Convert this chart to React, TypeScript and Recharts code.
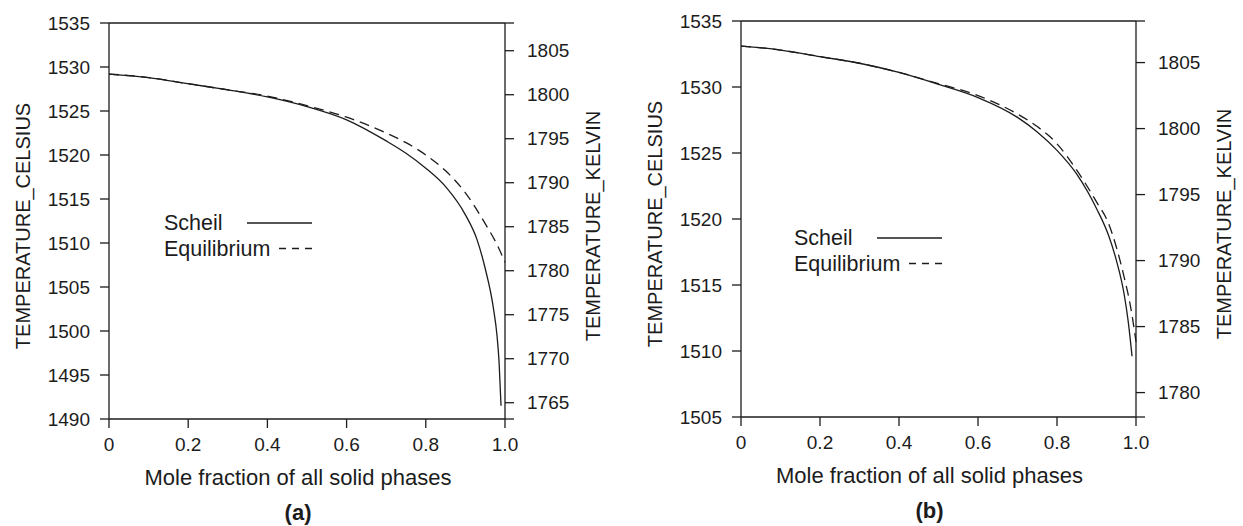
import { Label, Legend, Line, LineChart, XAxis, YAxis } from "recharts";

const FONT = '"Liberation Sans", Arial, Helvetica, sans-serif';
const INK = "#1c1c1c";
const K_OFFSET = 273.15;

const fractionTicks = [0, 0.2, 0.4, 0.6, 0.8, 1.0];
const keyOrder = ["Scheil", "Equilibrium"];

// (a) liquidus-to-solidus cooling paths
const scheilA_frac = [0, 0.1, 0.2, 0.3, 0.4, 0.5, 0.6, 0.7, 0.75, 0.8, 0.85, 0.9, 0.93, 0.95, 0.97, 0.98, 0.985, 0.99];
const scheilA_temp = [1529.2, 1528.8, 1528.1, 1527.4, 1526.6, 1525.5, 1524.0, 1521.6, 1520.2, 1518.5, 1516.4, 1513.2, 1510.3, 1507.1, 1502.8, 1499.4, 1496.5, 1491.5];
const equilA_frac = [0, 0.1, 0.2, 0.3, 0.4, 0.5, 0.6, 0.7, 0.75, 0.8, 0.85, 0.9, 0.95, 0.98, 1.0];
const equilA_temp = [1529.2, 1528.8, 1528.1, 1527.4, 1526.7, 1525.6, 1524.3, 1522.5, 1521.4, 1520.0, 1518.2, 1515.7, 1512.2, 1509.8, 1507.8];
const celsiusTicksA = [1490, 1495, 1500, 1505, 1510, 1515, 1520, 1525, 1530, 1535];
const kelvinTicksA = [1765, 1770, 1775, 1780, 1785, 1790, 1795, 1800, 1805];

// (b)
const scheilB_frac = [0, 0.1, 0.2, 0.3, 0.4, 0.5, 0.6, 0.7, 0.75, 0.8, 0.85, 0.9, 0.93, 0.95, 0.97, 0.98, 0.99];
const scheilB_temp = [1533.1, 1532.8, 1532.3, 1531.8, 1531.1, 1530.2, 1529.2, 1527.7, 1526.6, 1525.2, 1523.4, 1520.8, 1518.8, 1516.9, 1514.3, 1512.3, 1509.6];
const equilB_frac = [0, 0.1, 0.2, 0.3, 0.4, 0.5, 0.6, 0.7, 0.75, 0.8, 0.85, 0.9, 0.93, 0.95, 0.97, 0.98, 0.99, 1.0];
const equilB_temp = [1533.1, 1532.8, 1532.3, 1531.8, 1531.1, 1530.25, 1529.35, 1527.95, 1527.0, 1525.7, 1523.7, 1521.3, 1519.7, 1517.9, 1515.6, 1514.3, 1512.7, 1510.7];
const celsiusTicksB = [1505, 1510, 1515, 1520, 1525, 1530, 1535];
const kelvinTicksB = [1780, 1785, 1790, 1795, 1800, 1805];

const zip = (xs: number[], ts: number[]) => xs.map((x, i) => ({ x, t: ts[i] }));

const tickStyle = { fontSize: 19, fill: INK, fontFamily: FONT };
const axisStroke = { stroke: INK, strokeWidth: 1.3 };

function CurveKey({ payload }: any) {
  const items = [...(payload ?? [])].sort(
    (a: any, b: any) => keyOrder.indexOf(a.value) - keyOrder.indexOf(b.value)
  );
  return (
    <svg width={160} height={56} style={{ overflow: "visible", display: "block" }}>
      {items.map((p: any, i: number) => {
        const dashed = !!p.payload?.strokeDasharray;
        const base = 18 + i * 25.5;
        return (
          <g key={p.value}>
            <text x={0} y={base} fontSize={21.5} fontFamily={FONT} fill={INK}>
              {p.value}
            </text>
            <line
              x1={dashed ? 115 : 83}
              x2={148}
              y1={base - 7}
              y2={base - 7}
              stroke={INK}
              strokeWidth={1.6}
              strokeDasharray={dashed ? "7 6" : undefined}
            />
          </g>
        );
      })}
    </svg>
  );
}

interface PanelProps {
  tag: string;
  left: number;
  margin: { top: number; right: number; bottom: number; left: number };
  celsiusTicks: number[];
  kelvinTicks: number[];
  scheil: { x: number; t: number }[];
  equil: { x: number; t: number }[];
  keyPos: { left: number; top: number };
}

function Panel({ tag, left, margin, celsiusTicks, kelvinTicks, scheil, equil, keyPos }: PanelProps) {
  const cMin = celsiusTicks[0];
  const cMax = celsiusTicks[celsiusTicks.length - 1];
  const kDomain = [cMin + K_OFFSET, cMax + K_OFFSET];
  // frame ends get a bare tick on the kelvin side too
  const kTicks = [kDomain[0], ...kelvinTicks, kDomain[1]];

  return (
    <div style={{ position: "absolute", left, top: 0 }}>
      <LineChart width={620} height={526} margin={margin}>
        <XAxis
          xAxisId="bottom"
          dataKey="x"
          type="number"
          domain={[0, 1]}
          ticks={fractionTicks}
          tickFormatter={(v: number) => (v === 0 ? "0" : v.toFixed(1))}
          tick={tickStyle}
          tickSize={9}
          tickMargin={10}
          tickLine={axisStroke}
          axisLine={axisStroke}
          height={100}
        >
          <Label
            content={({ viewBox }: any) => {
              const cx = viewBox.x + viewBox.width / 2 - 9;
              return (
                <g fontFamily={FONT} fill={INK}>
                  <text x={cx} y={viewBox.y + 66} textAnchor="middle" fontSize={22}>
                    Mole fraction of all solid phases
                  </text>
                  <text x={cx} y={viewBox.y + 101} textAnchor="middle" fontSize={22} fontWeight="bold">
                    ({tag})
                  </text>
                </g>
              );
            }}
          />
        </XAxis>
        <XAxis
          xAxisId="top"
          orientation="top"
          dataKey="x"
          type="number"
          domain={[0, 1]}
          ticks={fractionTicks}
          tick={false}
          tickSize={9}
          tickLine={axisStroke}
          axisLine={axisStroke}
          height={10}
        />
        <YAxis
          yAxisId="c"
          dataKey="t"
          type="number"
          domain={[cMin, cMax]}
          ticks={celsiusTicks}
          allowDataOverflow
          tick={tickStyle}
          tickSize={9}
          tickMargin={10}
          tickLine={axisStroke}
          axisLine={axisStroke}
          width={100}
        >
          <Label
            content={({ viewBox }: any) => {
              const x = viewBox.x + viewBox.width - 86;
              const y = viewBox.y + viewBox.height / 2 + 5;
              return (
                <text x={x} y={y} transform={`rotate(-90 ${x} ${y})`} textAnchor="middle" dominantBaseline="central" fontSize={20} fontFamily={FONT} fill={INK}>
                  TEMPERATURE_CELSIUS
                </text>
              );
            }}
          />
        </YAxis>
        <YAxis
          yAxisId="k"
          orientation="right"
          type="number"
          domain={kDomain}
          ticks={kTicks}
          allowDataOverflow
          interval={0}
          tickFormatter={(v: number) => (Number.isInteger(v) ? String(v) : "")}
          tick={tickStyle}
          tickSize={9}
          tickMargin={13}
          tickLine={axisStroke}
          axisLine={axisStroke}
          width={100}
        >
          <Label
            content={({ viewBox }: any) => {
              const x = viewBox.x + 88;
              const y = viewBox.y + viewBox.height / 2 + 5;
              return (
                <text x={x} y={y} transform={`rotate(-90 ${x} ${y})`} textAnchor="middle" dominantBaseline="central" fontSize={20} fontFamily={FONT} fill={INK}>
                  TEMPERATURE_KELVIN
                </text>
              );
            }}
          />
        </YAxis>
        <Legend
          layout="horizontal"
          verticalAlign="middle"
          align="center"
          content={<CurveKey />}
          wrapperStyle={{ left: keyPos.left, top: keyPos.top, width: 160, height: 56 }}
        />
        <Line
          xAxisId="bottom"
          yAxisId="c"
          data={scheil}
          dataKey="t"
          name="Scheil"
          type="monotone"
          stroke={INK}
          strokeWidth={1.3}
          dot={false}
          isAnimationActive={false}
        />
        <Line
          xAxisId="bottom"
          yAxisId="c"
          data={equil}
          dataKey="t"
          name="Equilibrium"
          type="monotone"
          stroke={INK}
          strokeWidth={1.3}
          strokeDasharray="10 6"
          dot={false}
          isAnimationActive={false}
        />
      </LineChart>
    </div>
  );
}

export default function App() {
  return (
    <div style={{ position: "absolute", left: 0, top: 0, width: 1243, height: 526, background: "#fff" }}>
      <Panel
        tag="a"
        left={0}
        margin={{ top: 13, right: 15, bottom: 7, left: 9 }}
        celsiusTicks={celsiusTicksA}
        kelvinTicks={kelvinTicksA}
        scheil={zip(scheilA_frac, scheilA_temp)}
        equil={zip(equilA_frac, equilA_temp)}
        keyPos={{ left: 164, top: 212 }}
      />
      <Panel
        tag="b"
        left={620}
        margin={{ top: 11, right: 4, bottom: 9, left: 21 }}
        celsiusTicks={celsiusTicksB}
        kelvinTicks={kelvinTicksB}
        scheil={zip(scheilB_frac, scheilB_temp)}
        equil={zip(equilB_frac, equilB_temp)}
        keyPos={{ left: 174, top: 227 }}
      />
    </div>
  );
}
